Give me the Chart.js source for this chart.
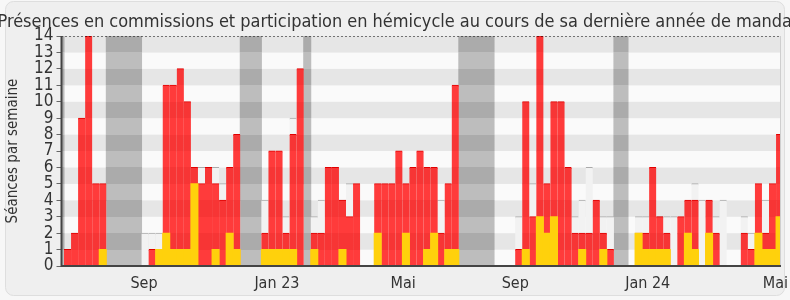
<!DOCTYPE html>
<html>
<head>
<meta charset="utf-8">
<script src="https://cdn.jsdelivr.net/npm/chart.js@4.4.1/dist/chart.umd.min.js"></script>
<style>
  html, body { margin: 0; padding: 0; background: #fff; }
  canvas { display: block; }
</style>
</head>
<body>
<canvas id="graphe" width="790" height="300"></canvas>
<script>
// une valeur par semaine (la semaine 0 est tronquée à gauche)
const commissions = [0, 1,2,9,14,5,5, 0,0,0,0,0, 0,1,1,11,11,12,10,6,5,6,5,4,6,8, 0,0,0, 2,7,7,2,8,12, 0,
  2,2,6,6,4,3,5,0,0,5,5,5,7,5,6,7,6,6,2,5,11, 0,0,0,0,0, 0,0,0, 1,10,3,14,5,10,10,6,2,2,2,4,2,1, 0,0, 0,
  2,2,6,3,2,0,3,4,4,0,4,2,0,0,0,2,1,5,2,5,8]
const hemicycle = [0, 0,0,0,0,0,1, 0,0,0,0,0, 0,0,1,2,1,1,1,5,0,0,1,0,2,1, 0,0,0, 1,1,1,1,1,0, 0,
  1,0,0,0,1,0,0,0,0,2,0,0,0,2,0,0,1,2,0,1,1, 0,0,0,0,0, 0,0,0, 0,1,0,3,2,3,0,0,0,1,0,0,1,0, 0,0, 0,
  2,1,1,1,1,0,0,2,1,0,2,0,0,0,0,0,0,2,1,1,3]
const mediane = [0, 1,2,5,10,4,4, 0,0,0,0,0, 2,2,2,7,7,7,7,5,6,4,6,5,4,4, 0,0,0, 4,4,3,3,9,5, 0,
  3,4,5,5,4,5,4,0,0,4,4,4,4,4,4,4,4,4,4,4,6, 0,0,0,0,0, 0,0,0, 3,5,5,7,4,4,4,3,3,4,6,3,3,3, 0,0, 0,
  3,3,4,3,3,3,2,3,5,4,3,3,4,0,0,3,2,3,4,3,4]
const vacances = [1, 0,0,0,0,0,0, 1,1,1,1,1, 0,0,0,0,0,0,0,0,0,0,0,0,0,0, 1,1,1, 0,0,0,0,0,0, 1,
  0,0,0,0,0,0,0,0,0,0,0,0,0,0,0,0,0,0,0,0,0, 1,1,1,1,1, 0,0,0, 0,0,0,0,0,0,0,0,0,0,0,0,0,0, 1,1, 0,
  0,0,0,0,0,0,0,0,0,0,0,0,0,0,0,0,0,0,0,0,0]

const tickWeeks = [11.85, 30.7, 48.6, 64.5, 83.3, 101.4]
const tickLabels = ['Sep', 'Jan 23', 'Mai', 'Sep', 'Jan 24', 'Mai']
const yMax = 14

const titre = 'Présences en commissions et participation en hémicycle au cours de sa dernière année de mandat'
const police = '"DejaVu Sans Condensed", "DejaVu Sans", sans-serif'

const points = (serie) => serie.map((v, i) => ({ x: i, y: v }))

// couleur qui suit les bandes horizontales du fond (une claire, une foncée)
const bandes = (chart, clair, fonce) => {
  const a = chart.chartArea
  if (!a) return clair
  const g = chart.ctx.createLinearGradient(0, a.bottom, 0, a.top)
  for (let v = 0; v < yMax; v++) {
    const c = v % 2 ? fonce : clair
    g.addColorStop(v / yMax, c)
    g.addColorStop((v + 1) / yMax, c)
  }
  return g
}

const decor = {
  id: 'decor',
  beforeDraw(chart) {
    const { ctx, width, height } = chart
    ctx.save()
    ctx.fillStyle = '#f7f7f7'
    ctx.fillRect(0, 0, width, height)
    ctx.beginPath()
    ctx.roundRect(5.5, 1.5, width - 11, height - 6, 8)
    ctx.fillStyle = '#efefef'
    ctx.fill()
    ctx.strokeStyle = '#dedede'
    ctx.lineWidth = 1
    ctx.stroke()
    // titre plus large que le canevas, coupé des deux côtés comme l'original
    ctx.fillStyle = '#333'
    ctx.font = '18px ' + police
    ctx.letterSpacing = '-0.03px'
    ctx.textAlign = 'left'
    ctx.textBaseline = 'alphabetic'
    ctx.fillText(titre, -2.5, 27)
    ctx.restore()
  },
  beforeDatasetsDraw(chart) {
    const { ctx, chartArea: a, scales: { y } } = chart
    ctx.save()
    for (let v = 0; v < yMax; v++) {
      const y0 = y.getPixelForValue(v)
      const y1 = y.getPixelForValue(v + 1)
      ctx.fillStyle = v % 2 ? '#e6e6e6' : '#fafafa'
      ctx.fillRect(a.left, y1, a.right - a.left, y0 - y1)
    }
    ctx.restore()
  },
  afterDatasetsDraw(chart) {
    const { ctx, chartArea: a } = chart
    ctx.save()
    ctx.strokeStyle = '#000'
    ctx.lineWidth = 1
    ctx.setLineDash([1, 3])
    ctx.beginPath()
    ctx.moveTo(a.left, a.top + 0.5)
    ctx.lineTo(a.right, a.top + 0.5)
    ctx.stroke()
    ctx.setLineDash([])
    ctx.strokeStyle = '#cfcfcf'
    ctx.beginPath()
    ctx.moveTo(a.right + 0.5, a.top)
    ctx.lineTo(a.right + 0.5, a.bottom)
    ctx.stroke()
    ctx.strokeStyle = '#444'
    ctx.lineWidth = 2
    ctx.beginPath()
    ctx.moveTo(a.left, a.top)
    ctx.lineTo(a.left, a.bottom)
    ctx.lineTo(a.right + 1, a.bottom)
    ctx.stroke()
    ctx.restore()
  }
}

new Chart(document.getElementById('graphe'), {
  type: 'bar',
  data: {
    datasets: [
      {
        label: 'Hémicycle',
        data: points(hemicycle),
        backgroundColor: '#ffd10c',
        borderWidth: 0
      },
      {
        label: 'Commissions',
        data: points(commissions),
        backgroundColor: (c) => bandes(c.chart, '#ff3b3b', '#f73535'),
        borderColor: '#e00000',
        borderWidth: { top: 1, left: 0, right: 0, bottom: 0 }
      },
      {
        label: 'Médiane',
        data: points(mediane),
        backgroundColor: '#f2f2f2',
        borderColor: '#aaaaaa',
        borderWidth: { top: 1, left: 0, right: 0, bottom: 0 }
      },
      {
        label: 'Vacances',
        data: points(vacances.map(v => v ? yMax : 0)),
        backgroundColor: (c) => bandes(c.chart, '#bdbdbd', '#ababab'),
        borderWidth: 0
      }
    ]
  },
  options: {
    responsive: false,
    animation: false,
    devicePixelRatio: 1,
    layout: { padding: { top: 36, right: 10, bottom: 0, left: 0 } },
    datasets: {
      bar: { grouped: false, barPercentage: 1, categoryPercentage: 1, inflateAmount: 0.5 }
    },
    plugins: {
      legend: { display: false },
      title: { display: false },
      tooltip: { enabled: false }
    },
    scales: {
      x: {
        type: 'linear',
        offset: false,
        min: 0.145,
        max: 102.06,
        grid: { display: false, offset: false },
        border: { display: false },
        afterBuildTicks: (s) => { s.ticks = tickWeeks.map(v => ({ value: v })) },
        ticks: {
          autoSkip: false,
          maxRotation: 0,
          padding: 0,
          color: '#333',
          font: { family: police, size: 16 },
          callback: (v, i) => tickLabels[i]
        },
        afterFit: (s) => { s.height = 34; s.paddingLeft = 0; s.paddingRight = 0 }
      },
      y: {
        min: 0,
        max: yMax,
        ticks: {
          stepSize: 1,
          autoSkip: false,
          padding: 3,
          color: '#333',
          font: { family: police, size: 17 }
        },
        grid: { drawOnChartArea: false, tickLength: 5, tickColor: '#666' },
        border: { display: false },
        title: {
          display: true,
          text: 'Séances par semaine',
          color: '#333',
          font: { family: police, size: 15 },
          padding: { top: 4, bottom: 0 }
        },
        afterFit: (s) => { s.width = 61.5; s.paddingTop = 0; s.paddingBottom = 0 }
      }
    }
  },
  plugins: [decor]
})
</script>
</body>
</html>
